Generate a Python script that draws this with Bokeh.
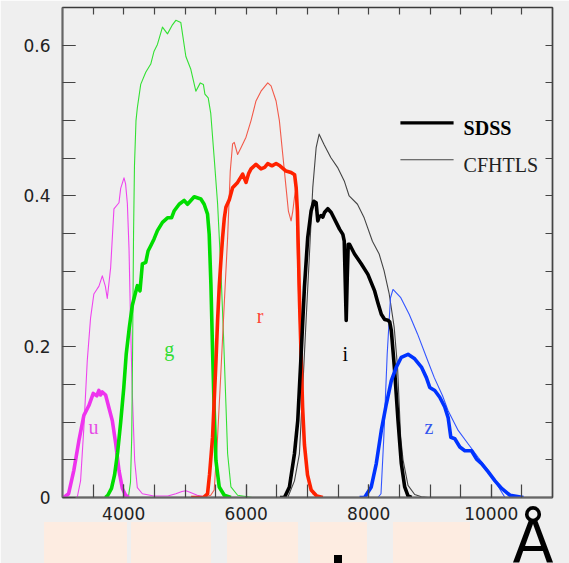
from bokeh.plotting import figure
from bokeh.models import Range1d, FixedTicker, LinearAxis, Div
from bokeh.layouts import column
from bokeh.core.properties import value
from bokeh.embed import file_html
from bokeh.resources import INLINE

# ---------------- data (wavelength in Angstrom, transmission) ----------------
u_sdss_x = [3000, 3020, 3100, 3185, 3267, 3349, 3431, 3502, 3560, 3594, 3620, 3650, 3704, 3758, 3813, 3868, 3922, 3977, 4031, 4080]
u_sdss_y = [0.0, 0.0, 0.005, 0.036, 0.075, 0.109, 0.122, 0.138, 0.135, 0.142, 0.136, 0.140, 0.136, 0.119, 0.102, 0.072, 0.036, 0.012, 0.003, 0.0]

u_cfht_x = [3150, 3240, 3295, 3349, 3404, 3458, 3512, 3568, 3594, 3650, 3700, 3731, 3786, 3840, 3922, 3950, 4004, 4030, 4059, 4086, 4113, 4140, 4178, 4222, 4304, 4490, 4720, 4850, 4950, 5014, 5080, 5200, 5370, 5500]
u_cfht_y = [0.0, 0.0, 0.022, 0.093, 0.181, 0.238, 0.270, 0.277, 0.28, 0.294, 0.28, 0.264, 0.305, 0.383, 0.391, 0.41, 0.424, 0.416, 0.39, 0.33, 0.225, 0.138, 0.049, 0.013, 0.005, 0.002, 0.002, 0.005, 0.008, 0.009, 0.007, 0.003, 0.0, 0.0]

g_sdss_x = [3700, 3740, 3800, 3850, 3900, 3950, 4000, 4040, 4090, 4140, 4180, 4222, 4265, 4304, 4359, 4397, 4441, 4495, 4550, 4632, 4714, 4780, 4822, 4904, 4986, 5041, 5150, 5259, 5313, 5368, 5395, 5423, 5450, 5477, 5505, 5559, 5641, 5750]
g_sdss_y = [0.0, 0.003, 0.012, 0.03, 0.06, 0.1, 0.145, 0.19, 0.225, 0.255, 0.268, 0.281, 0.274, 0.31, 0.312, 0.327, 0.334, 0.343, 0.354, 0.365, 0.371, 0.371, 0.38, 0.389, 0.394, 0.389, 0.399, 0.396, 0.389, 0.376, 0.349, 0.283, 0.195, 0.115, 0.049, 0.014, 0.003, 0.0]

g_cfht_x = [4000, 4080, 4110, 4130, 4145, 4160, 4175, 4200, 4222, 4277, 4359, 4441, 4495, 4550, 4632, 4714, 4795, 4850, 4932, 5014, 5095, 5177, 5250, 5300, 5325, 5379, 5420, 5477, 5532, 5587, 5630, 5668, 5696, 5750, 5859, 6100]
g_cfht_y = [0.0, 0.003, 0.02, 0.08, 0.2, 0.35, 0.44, 0.5, 0.517, 0.548, 0.564, 0.575, 0.592, 0.601, 0.624, 0.615, 0.627, 0.633, 0.63, 0.585, 0.568, 0.539, 0.55, 0.548, 0.535, 0.53, 0.51, 0.45, 0.39, 0.3, 0.212, 0.124, 0.058, 0.014, 0.003, 0.0]

r_sdss_x = [5100, 5300, 5368, 5400, 5450, 5505, 5532, 5559, 5587, 5614, 5641, 5668, 5723, 5777, 5859, 5941, 5996, 6040, 6078, 6159, 6241, 6300, 6351, 6420, 6487, 6550, 6650, 6732, 6790, 6815, 6835, 6850, 6870, 6895, 6920, 6950, 7000, 7060, 7150, 7250]
r_sdss_y = [0.0, 0.0, 0.005, 0.03, 0.08, 0.18, 0.235, 0.28, 0.315, 0.345, 0.37, 0.385, 0.395, 0.411, 0.418, 0.429, 0.418, 0.43, 0.436, 0.442, 0.436, 0.438, 0.443, 0.44, 0.443, 0.44, 0.433, 0.431, 0.428, 0.411, 0.38, 0.33, 0.26, 0.19, 0.12, 0.07, 0.03, 0.01, 0.002, 0.0]

r_cfht_x = [5300, 5420, 5477, 5532, 5587, 5641, 5696, 5739, 5777, 5804, 5859, 5914, 5996, 6078, 6159, 6241, 6351, 6405, 6487, 6541, 6596, 6650, 6688, 6732, 6760, 6787, 6814, 6841, 6868, 6896, 6950, 7004, 7086, 7168, 7250]
r_cfht_y = [0.0, 0.003, 0.01, 0.08, 0.168, 0.257, 0.345, 0.433, 0.469, 0.471, 0.455, 0.464, 0.478, 0.5, 0.526, 0.539, 0.55, 0.546, 0.526, 0.5, 0.455, 0.411, 0.38, 0.367, 0.38, 0.398, 0.41, 0.3, 0.235, 0.146, 0.067, 0.027, 0.005, 0.001, 0.0]

i_sdss_x = [6550, 6623, 6705, 6787, 6841, 6896, 6950, 7004, 7059, 7103, 7141, 7168, 7190, 7223, 7250, 7277, 7332, 7387, 7468, 7523, 7577, 7600, 7615, 7632, 7648, 7665, 7686, 7768, 7877, 7986, 8041, 8096, 8150, 8205, 8260, 8314, 8342, 8369, 8423, 8478, 8532, 8587, 8641, 8700]
i_sdss_y = [0.0, 0.0, 0.014, 0.058, 0.102, 0.19, 0.279, 0.345, 0.38, 0.393, 0.391, 0.367, 0.372, 0.374, 0.372, 0.378, 0.383, 0.378, 0.365, 0.356, 0.349, 0.34, 0.29, 0.235, 0.29, 0.336, 0.336, 0.323, 0.31, 0.296, 0.285, 0.274, 0.258, 0.243, 0.236, 0.235, 0.233, 0.221, 0.168, 0.102, 0.045, 0.014, 0.002, 0.0]

i_cfht_x = [6600, 6678, 6787, 6868, 6923, 6977, 7032, 7086, 7141, 7190, 7272, 7380, 7490, 7600, 7680, 7816, 7925, 8060, 8170, 8250, 8334, 8415, 8470, 8521, 8560, 8641, 8750, 8860, 8970]
i_cfht_y = [0.0, 0.0, 0.022, 0.058, 0.146, 0.235, 0.323, 0.411, 0.464, 0.482, 0.468, 0.451, 0.438, 0.42, 0.4, 0.389, 0.371, 0.34, 0.323, 0.301, 0.27, 0.226, 0.173, 0.08, 0.05, 0.016, 0.004, 0.001, 0.0]

z_sdss_x = [7850, 7932, 8041, 8123, 8205, 8287, 8369, 8450, 8532, 8641, 8750, 8860, 8941, 8996, 9078, 9159, 9241, 9296, 9340, 9405, 9487, 9569, 9678, 9760, 9842, 9951, 10061, 10170, 10306, 10525]
z_sdss_y = [0.0, 0.0, 0.014, 0.045, 0.089, 0.124, 0.155, 0.173, 0.186, 0.19, 0.184, 0.173, 0.159, 0.146, 0.142, 0.133, 0.12, 0.106, 0.08, 0.078, 0.067, 0.062, 0.062, 0.051, 0.045, 0.034, 0.022, 0.012, 0.003, 0.0]

z_cfht_x = [8100, 8150, 8200, 8246, 8301, 8355, 8396, 8523, 8660, 8796, 8960, 9070, 9205, 9296, 9460, 9624, 9788, 9951, 10088, 10224, 10300]
z_cfht_y = [0.0, 0.0, 0.005, 0.08, 0.19, 0.265, 0.276, 0.265, 0.243, 0.217, 0.182, 0.159, 0.135, 0.115, 0.089, 0.071, 0.053, 0.036, 0.018, 0.0, 0.0]

band_names = ["u", "g", "r", "i", "z"]
band_label_x = [3507, 4743, 6225, 7616, 8983]
band_label_y = [0.093, 0.197, 0.241, 0.191, 0.093]
band_colors = ["#e64de6", "#33dd33", "#ff4433", "#000000", "#3355ee"]

legend_names = ["SDSS", "CFHTLS"]
legend_line_x = [8517, 9385]
legend_y = [0.497, 0.448]
legend_text_x = 9548
legend_text_y = [0.490, 0.441]

x_major = [4000, 6000, 8000, 10000]
x_minor = [3500, 4000, 4500, 5000, 5500, 6000, 6500, 7000, 7500, 8000, 8500, 9000, 9500, 10000, 10500]
y_major = [0, 0.2, 0.4, 0.6]
y_major_labels = ["0", "0.2", "0.4", "0.6"]
y_minor = [0.05, 0.1, 0.15, 0.2, 0.25, 0.3, 0.35, 0.4, 0.45, 0.5, 0.55, 0.6]

unit_label = "Å"
# decorative page strip under the chart (pixels inside a 569 x 58 strip: left, top, width, height)
page_boxes = [(44, 17, 83, 41), (131, 17, 80, 41), (227, 17, 71, 41), (310, 17, 57, 41), (393, 17, 77, 41)]
page_mark = (334, 50, 8, 8)

# ---------------- figure ----------------
BG = "#efefef"
p = figure(width=569, height=563, x_range=Range1d(3000, 11000), y_range=Range1d(0, 0.65),
           output_backend="svg", toolbar_location=None,
           min_border_left=62, min_border_right=17, min_border_top=7, min_border_bottom=66,
           background_fill_color=BG, border_fill_color=BG)
p.grid.visible = False
p.outline_line_color = "#3a3a3a"
p.outline_line_width = 1.3

xa = p.xaxis[0]
xa.ticker = FixedTicker(ticks=x_major, minor_ticks=x_minor)
ya = p.yaxis[0]
ya.ticker = FixedTicker(ticks=y_major, minor_ticks=y_minor)
ya.major_label_overrides = {k: v for k, v in zip(y_major, y_major_labels)}
for ax, standoff in ((xa, 9), (ya, 12)):
    ax.major_tick_in = 13
    ax.major_tick_out = 0
    ax.minor_tick_in = 13
    ax.minor_tick_out = 0
    ax.major_tick_line_color = "#444444"
    ax.minor_tick_line_color = "#444444"
    ax.major_tick_line_width = 1.2
    ax.minor_tick_line_width = 1.2
    ax.axis_line_color = "#666666"
    ax.axis_line_width = 2
    ax.major_label_text_font = "DejaVu Sans"
    ax.major_label_text_font_size = "17px"
    ax.major_label_text_color = "#222222"
    ax.major_label_standoff = standoff

top_ax = LinearAxis(ticker=FixedTicker(ticks=[], minor_ticks=x_minor),
                    minor_tick_in=7, minor_tick_out=0, major_tick_in=0, major_tick_out=0,
                    minor_tick_line_color="#444444", minor_tick_line_width=1.2,
                    axis_line_color=None)
right_ax = LinearAxis(ticker=FixedTicker(ticks=[], minor_ticks=y_minor),
                      minor_tick_in=7, minor_tick_out=0, major_tick_in=0, major_tick_out=0,
                      minor_tick_line_color="#444444", minor_tick_line_width=1.2,
                      axis_line_color="#444444", axis_line_width=1.5)
p.add_layout(top_ax, "above")
p.add_layout(right_ax, "right")

THICK = 3.6
THIN = 1.1
curves = [
    (u_cfht_x, u_cfht_y, "#ee44ee", THIN),
    (g_cfht_x, g_cfht_y, "#33e033", THIN),
    (r_cfht_x, r_cfht_y, "#f25a4a", THIN),
    (i_cfht_x, i_cfht_y, "#444444", THIN),
    (z_cfht_x, z_cfht_y, "#3355ff", THIN),
    (u_sdss_x, u_sdss_y, "#ee33ee", THICK),
    (g_sdss_x, g_sdss_y, "#00dd00", THICK),
    (r_sdss_x, r_sdss_y, "#ff2200", THICK),
    (i_sdss_x, i_sdss_y, "#000000", THICK),
    (z_sdss_x, z_sdss_y, "#0033ff", THICK),
]
for xs, ys, col, w in curves:
    p.line(xs, ys, line_color=col, line_width=w, line_join="round")

p.text(x=band_label_x, y=band_label_y, text=band_names, text_color=band_colors,
       text_font=value("Liberation Serif"), text_font_size="20px",
       text_align="center", text_baseline="alphabetic")

# legend
p.line(legend_line_x, [legend_y[0]] * 2, line_color="black", line_width=3.2)
p.line(legend_line_x, [legend_y[1]] * 2, line_color="#444444", line_width=1.1)
p.text(x=[legend_text_x], y=[legend_text_y[0]], text=[legend_names[0]], text_color="black",
       text_font=value("Liberation Serif"), text_font_size="20px", text_font_style="bold",
       text_align="left", text_baseline="alphabetic")
p.text(x=[legend_text_x], y=[legend_text_y[1]], text=[legend_names[1]], text_color="#222222",
       text_font=value("Liberation Serif"), text_font_size="20px",
       text_align="left", text_baseline="alphabetic")

# ---------------- strip of page elements overlapping the chart's bottom margin ----------------
parts = []
for (l, t, w, h) in page_boxes:
    parts.append(f'<div style="position:absolute;left:{l}px;top:{t}px;width:{w}px;height:{h}px;background:#fdece1;"></div>')
l, t, w, h = page_mark
parts.append(f'<div style="position:absolute;left:{l}px;top:{t}px;width:{w}px;height:{h}px;background:#000;"></div>')
parts.append(f'<div style="position:absolute;left:502px;top:6px;width:62px;text-align:center;'
             f'font-family:\'DejaVu Sans\';font-size:60px;line-height:60px;color:#000;">{unit_label}</div>')
html = '<div style="position:relative;width:569px;height:58px;overflow:hidden;">' + "".join(parts) + '</div>'
strip = Div(text=html, width=569, height=58, margin=(-58, 0, 0, 0), styles={"overflow": "visible"})

layout = column(p, strip, spacing=0)
open("out.html", "w").write(file_html(layout, INLINE))
